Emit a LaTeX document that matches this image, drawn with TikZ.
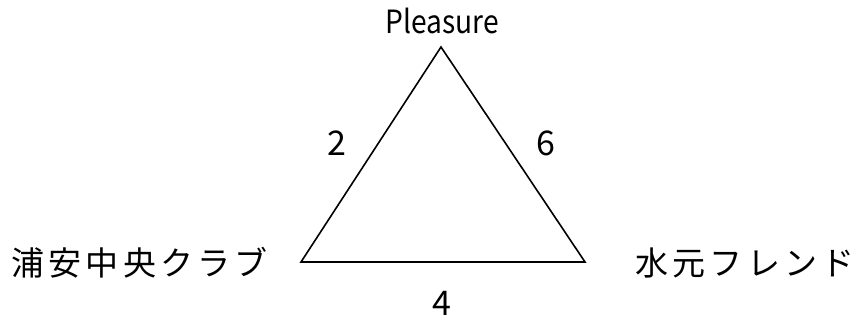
\documentclass[tikz,border=0pt]{standalone}
\usepackage{fontspec}
\setmainfont{Noto Sans CJK JP}
\newfontfamily\jpfont[LetterSpace=13]{Noto Sans CJK JP}
\begin{document}
\begin{tikzpicture}[x=1pt,y=-1pt,
  vlabel/.style={inner sep=0pt, xscale=0.88, font=\fontsize{32}{34}\selectfont},
  elabel/.style={inner sep=0pt, font=\fontsize{34}{38}\selectfont},
  jlabel/.style={inner sep=0pt, font=\jpfont\fontsize{33}{36}\selectfont},
  edge/.style={draw=black, line width=1.6pt, line join=miter}]
\useasboundingbox (0,0) rectangle (862,322);
\coordinate (t) at (441,47);
\coordinate (l) at (301,262);
\coordinate (r) at (585,262);
\draw[edge] (t) -- (l) -- (r) -- cycle;
\node[vlabel] (pl) at (442,21) {Pleasure};
\node[jlabel, anchor=west] (ja) at (11,263) {浦安中央クラブ};
\node[jlabel, anchor=west] (jb) at (635,263) {水元フレンド};
\node[elabel] (e2) at (337,143) {2};
\node[elabel] (e6) at (546,143) {6};
\node[elabel] (e4) at (442,303) {4};
\end{tikzpicture}
\end{document}
